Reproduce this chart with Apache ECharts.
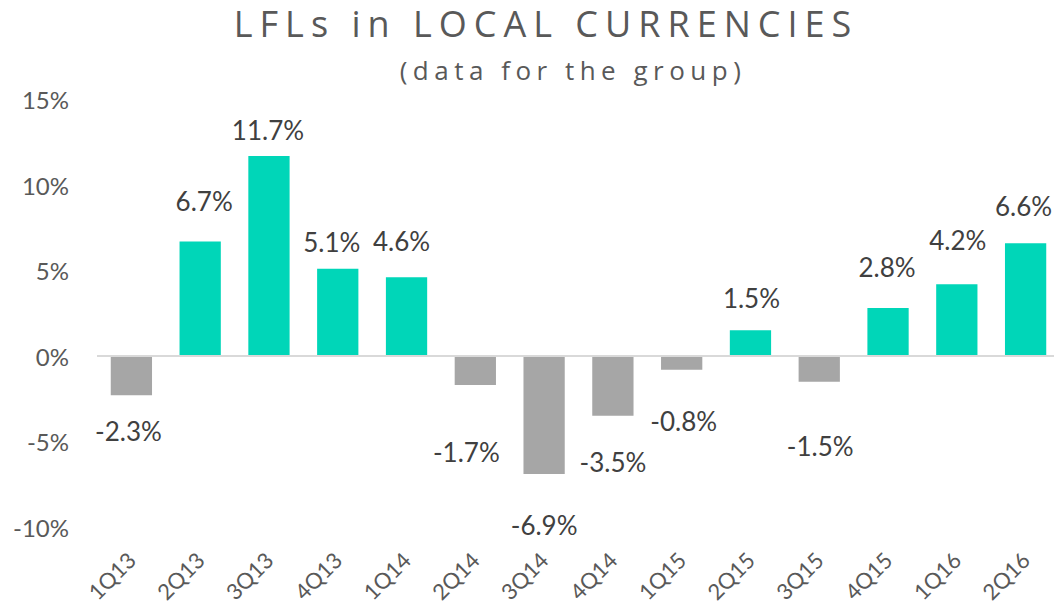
<!DOCTYPE html>
<html>
<head>
<meta charset="utf-8">
<script src="https://cdn.jsdelivr.net/npm/echarts@6/dist/echarts.min.js"></script>
<style>
html, body { margin: 0; padding: 0; background: #fff; }
#chart { width: 1054px; height: 612px; }
</style>
</head>
<body>
<div id="chart"></div>
<script>
// quarters on the x axis
var quarters = ['1Q13', '2Q13', '3Q13', '4Q13', '1Q14', '2Q14', '3Q14', '4Q14',
                '1Q15', '2Q15', '3Q15', '4Q15', '1Q16', '2Q16'];
// LFL growth in local currencies, %
var lfl = [-2.3, 6.7, 11.7, 5.1, 4.6, -1.7, -6.9, -3.5, -0.8, 1.5, -1.5, 2.8, 4.2, 6.6];
// y axis range / step (%)
var yMin = -10, yMax = 15, yStep = 5;

var titleText = 'LFLs in LOCAL CURRENCIES';
var subText = '(data for the group)';

// labels were dragged by hand in the original, so nudge each one (px)
var labelNudge = [[-3, 23], [4, -27], [-1, -13], [-6, -14], [-5, -23], [-9, 54], [0, 38],
                  [0, 33], [2, 38], [1, -19], [1, 51], [-1, -28], [1, -31], [-2, -24]];

var teal = '#00D6B8';
var grey = '#A6A6A6';

var barData = [];
for (var i = 0; i < lfl.length; i++) {
    var neg = lfl[i] < 0;
    barData.push({
        value: lfl[i],
        itemStyle: { color: neg ? grey : teal },
        label: {
            position: neg ? 'bottom' : 'top',
            offset: labelNudge[i]
        }
    });
}

var dom = document.getElementById('chart');
var myChart = echarts.init(dom, null, { renderer: 'svg' });

var option = {
    animation: false,
    backgroundColor: '#fff',
    title: [
        {
            text: titleText,
            left: 541,
            top: 0,
            textAlign: 'center',
            textStyle: { fontFamily: 'Open Sans', fontSize: 36, fontWeight: 'normal', color: '#595959' }
        },
        {
            text: subText,
            left: 568,
            top: 52,
            textAlign: 'center',
            textStyle: { fontFamily: 'Open Sans', fontSize: 26, fontWeight: 'normal', color: '#595959' }
        }
    ],
    grid: {
        left: 97,
        right: -6,
        top: 99.5,
        bottom: 85,
        outerBoundsMode: 'none'
    },
    xAxis: {
        type: 'category',
        data: quarters,
        axisLine: { show: false, onZero: false },
        axisTick: { show: false },
        axisLabel: {
            interval: 0,
            rotate: 45,
            margin: 29,
            fontFamily: 'Lato',
            fontSize: 22,
            color: '#595959'
        }
    },
    yAxis: {
        type: 'value',
        min: yMin,
        max: yMax,
        interval: yStep,
        axisLine: { show: false },
        axisTick: { show: false },
        splitLine: { show: false },
        axisLabel: {
            formatter: '{value}%',
            margin: 28,
            fontFamily: 'Lato',
            fontSize: 24,
            color: '#595959'
        }
    },
    series: [
        {
            type: 'bar',
            data: barData,
            barWidth: '60%',
            label: {
                show: true,
                distance: 0,
                fontFamily: 'Lato',
                fontSize: 26,
                color: '#404040',
                formatter: function (p) { return p.value.toFixed(1) + '%'; }
            },
            markLine: {
                silent: true,
                symbol: 'none',
                label: { show: false },
                lineStyle: { color: '#D9D9D9', width: 2, type: 'solid' },
                data: [{ yAxis: 0 }]
            }
        }
    ]
};

myChart.setOption(option, true);

// the original title is letter-spaced; svg text takes css letter-spacing
function spaceTitles() {
    var texts = dom.querySelectorAll('svg text');
    for (var k = 0; k < texts.length; k++) {
        var t = texts[k].textContent;
        if (t === titleText) texts[k].style.letterSpacing = '7px';
        if (t === subText) texts[k].style.letterSpacing = '5.5px';
    }
}
myChart.on('finished', spaceTitles);
setTimeout(spaceTitles, 50);
</script>
</body>
</html>
